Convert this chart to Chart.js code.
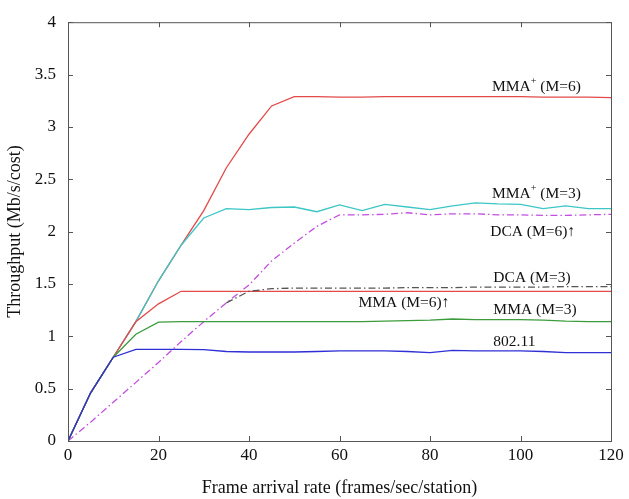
<!DOCTYPE html>
<html>
<head>
<meta charset="utf-8">
<script src="https://cdn.jsdelivr.net/npm/chart.js@4/dist/chart.umd.min.js"></script>
<style>
  html, body { margin: 0; padding: 0; background: #fff; }
  #wrap { width: 629px; height: 499px; }
</style>
</head>
<body>
<div id="wrap"><canvas id="chart" width="629" height="499"></canvas></div>
<script>
// Frame arrival rate (frames/sec/station)
const rates = [0, 5, 10, 15, 20, 25, 30, 35, 40, 45, 50, 55, 60, 65, 70, 75, 80, 85, 90, 95, 100, 105, 110, 115, 120];

// Throughput (Mb/s/cost)
const mmaPlus6 = [0, 0.46, 0.8, 1.14, 1.53, 1.87, 2.2, 2.61, 2.93, 3.2, 3.29, 3.29, 3.285, 3.285, 3.29, 3.29, 3.29, 3.29, 3.29, 3.29, 3.29, 3.285, 3.285, 3.285, 3.28];
const mmaPlus3 = [0, 0.46, 0.8, 1.14, 1.53, 1.87, 2.13, 2.22, 2.21, 2.23, 2.235, 2.19, 2.255, 2.2, 2.26, 2.235, 2.21, 2.245, 2.275, 2.265, 2.26, 2.22, 2.245, 2.22, 2.22];
const dca6 = [0, 0.18, 0.37, 0.56, 0.75, 0.95, 1.14, 1.32, 1.49, 1.72, 1.89, 2.05, 2.16, 2.16, 2.165, 2.18, 2.16, 2.17, 2.17, 2.16, 2.16, 2.155, 2.155, 2.16, 2.165];
const dca3 = [0, 0.18, 0.37, 0.56, 0.75, 0.95, 1.14, 1.32, 1.43, 1.455, 1.46, 1.46, 1.46, 1.46, 1.46, 1.465, 1.465, 1.465, 1.47, 1.47, 1.47, 1.47, 1.475, 1.475, 1.475];
const mma6 = [0, 0.46, 0.8, 1.14, 1.31, 1.43, 1.43, 1.43, 1.43, 1.43, 1.43, 1.43, 1.43, 1.43, 1.43, 1.43, 1.43, 1.43, 1.43, 1.43, 1.43, 1.43, 1.43, 1.43, 1.43];
const mma3 = [0, 0.46, 0.8, 1.02, 1.135, 1.14, 1.14, 1.14, 1.14, 1.14, 1.14, 1.14, 1.14, 1.14, 1.145, 1.15, 1.155, 1.165, 1.16, 1.16, 1.16, 1.155, 1.145, 1.14, 1.14];
const ieee80211 = [0, 0.46, 0.8, 0.875, 0.875, 0.875, 0.872, 0.855, 0.85, 0.85, 0.85, 0.855, 0.86, 0.86, 0.86, 0.855, 0.845, 0.865, 0.86, 0.86, 0.86, 0.855, 0.845, 0.845, 0.845];

// curve labels, "^" marks a superscript character
const labelTexts = ['MMA^+ (M=6)', 'MMA^+ (M=3)', 'DCA (M=6)\u2191', 'DCA (M=3)', 'MMA (M=6)\u2191', 'MMA (M=3)', '802.11'];
const labelX = [93.7, 93.7, 93.3, 94.0, 64.2, 94.0, 94.0];
const labelY = [3.38, 2.36, 2.0, 1.56, 1.32, 1.25, 0.95];

const serif = '"Liberation Serif", "Times New Roman", serif';

function pts(ys) {
    return rates.map((x, i) => ({ x: x, y: ys[i] }));
}

// box around the plot with ticks pointing inwards, plus curve labels
const framePlugin = {
    id: 'frame',
    afterDraw(chart) {
        const ctx = chart.ctx;
        const a = chart.chartArea;
        const xs = chart.scales.x;
        const ys = chart.scales.y;
        ctx.save();
        ctx.strokeStyle = '#555';
        ctx.lineWidth = 1;
        ctx.strokeRect(a.left + 0.5, a.top + 0.5, a.right - a.left, a.bottom - a.top);
        ctx.beginPath();
        xs.ticks.forEach((t) => {
            const px = Math.round(xs.getPixelForValue(t.value)) + 0.5;
            ctx.moveTo(px, a.bottom);
            ctx.lineTo(px, a.bottom - 5);
            ctx.moveTo(px, a.top);
            ctx.lineTo(px, a.top + 5);
        });
        ys.ticks.forEach((t) => {
            const py = Math.round(ys.getPixelForValue(t.value)) + 0.5;
            ctx.moveTo(a.left, py);
            ctx.lineTo(a.left + 5, py);
            ctx.moveTo(a.right, py);
            ctx.lineTo(a.right - 5, py);
        });
        ctx.stroke();

        ctx.fillStyle = '#111';
        ctx.textBaseline = 'middle';
        labelTexts.forEach((txt, i) => {
            let x = xs.getPixelForValue(labelX[i]);
            const y = ys.getPixelForValue(labelY[i]);
            const parts = txt.split('^');
            ctx.font = '15.5px ' + serif;
            ctx.fillText(parts[0], x, y);
            x += ctx.measureText(parts[0]).width;
            if (parts.length > 1) {
                const sup = parts[1].charAt(0);
                const rest = parts[1].slice(1);
                ctx.font = '10px ' + serif;
                ctx.fillText(sup, x, y - 6);
                x += ctx.measureText(sup).width;
                ctx.font = '15.5px ' + serif;
                ctx.fillText(rest, x, y);
            }
        });
        ctx.restore();
    }
};

function lineSet(label, ys, color, dash) {
    return {
        label: label,
        data: pts(ys),
        borderColor: color,
        backgroundColor: color,
        borderWidth: 1.3,
        borderDash: dash || [],
        pointRadius: 0,
        tension: 0,
        fill: false,
    };
}

// DCA (M=3) lies under DCA (M=6) at low load, only show it where they part
const dca3Set = lineSet('DCA (M=3)', dca3, '#555555', [7, 3, 1.5, 3]);
dca3Set.segment = {
    borderColor: (c) => (c.p1.parsed.x <= 35 ? 'rgba(0,0,0,0)' : undefined),
};

const ctx = document.getElementById('chart').getContext('2d');
new Chart(ctx, {
    type: 'line',
    data: {
        datasets: [
            dca3Set,
            lineSet('802.11', ieee80211, '#2f2fd6'),
            lineSet('MMA (M=3)', mma3, '#3c9c3c'),
            lineSet('MMA (M=6)', mma6, '#e24a4a'),
            lineSet('MMA+ (M=3)', mmaPlus3, '#3cc6c6'),
            lineSet('DCA (M=6)', dca6, '#c44fe0', [7, 3, 1.5, 3]),
            lineSet('MMA+ (M=6)', mmaPlus6, '#e24a4a'),
        ],
    },
    options: {
        responsive: false,
        animation: false,
        layout: {
            padding: { top: 16, right: 18, left: 0, bottom: 0 },
        },
        plugins: {
            legend: { display: false },
            tooltip: { enabled: false },
        },
        scales: {
            x: {
                type: 'linear',
                min: 0,
                max: 120,
                afterFit: (scale) => { scale.height = 58; },
                ticks: {
                    stepSize: 20,
                    color: '#111',
                    padding: 4,
                    maxRotation: 0,
                    font: { family: serif, size: 17 },
                },
                grid: { display: false, drawTicks: false },
                border: { display: false },
                title: {
                    display: true,
                    text: 'Frame arrival rate (frames/sec/station)',
                    color: '#111',
                    padding: { top: 0, bottom: 0 },
                    font: { family: serif, size: 18 },
                },
            },
            y: {
                min: 0,
                max: 4,
                afterFit: (scale) => { scale.width = 68; },
                ticks: {
                    stepSize: 0.5,
                    color: '#111',
                    padding: 12,
                    font: { family: serif, size: 17 },
                    callback: (v) => String(Number(v)),
                },
                grid: { display: false, drawTicks: false },
                border: { display: false },
                title: {
                    display: true,
                    text: 'Throughput (Mb/s/cost)',
                    color: '#111',
                    padding: { top: 4, bottom: 0 },
                    font: { family: serif, size: 18 },
                },
            },
        },
    },
    plugins: [framePlugin],
});
</script>
</body>
</html>
